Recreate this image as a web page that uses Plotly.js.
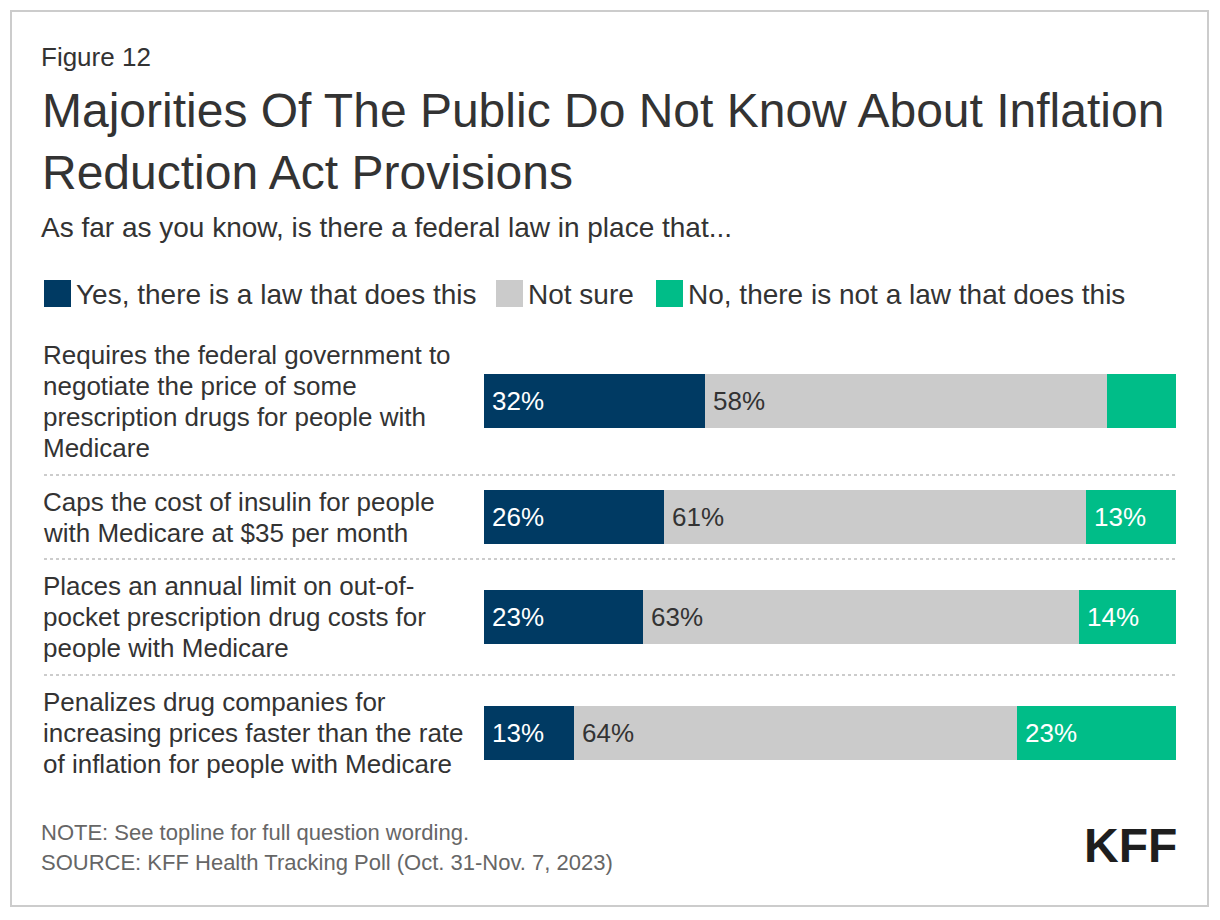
<!DOCTYPE html>
<html>
<head>
<meta charset="utf-8">
<script src="https://cdn.plot.ly/plotly-3.0.1.min.js"></script>
<style>
  html, body { margin: 0; padding: 0; background: #ffffff; }
  #chart { width: 1220px; height: 920px; }
</style>
</head>
<body>
<div id="chart"></div>
<script>
// ---------------- DATA ----------------
const categories = [
  "Requires the federal government to<br>negotiate the price of some<br>prescription drugs for people with<br>Medicare",
  "Caps the cost of insulin for people<br>with Medicare at $35 per month",
  "Places an annual limit on out-of-<br>pocket prescription drug costs for<br>people with Medicare",
  "Penalizes drug companies for<br>increasing prices faster than the rate<br>of inflation for people with Medicare"
];
const seriesNames = [
  "Yes, there is a law that does this",
  "Not sure",
  "No, there is not a law that does this"
];
const yesValues = [32, 26, 23, 13];
const notSureValues = [58, 61, 63, 64];
const noValues = [10, 13, 14, 23];

const figureLabel = "Figure 12";
const titleText = "Majorities Of The Public Do Not Know About Inflation<br>Reduction Act Provisions";
const subtitleText = "As far as you know, is there a federal law in place that...";
const noteText = "NOTE: See topline for full question wording.";
const sourceText = "SOURCE: KFF Health Tracking Poll (Oct. 31-Nov. 7, 2023)";
const logoText = "KFF";

// ---------------- STYLE / LAYOUT ----------------
const FONT = '"Liberation Sans", Arial, Helvetica, sans-serif';
const colors = ["#003a63", "#cbcbcb", "#00bd88"];
const labelColors = ["#ffffff", "#333333", "#ffffff"];
const W = 1220, H = 920;
const ml = 484, mr = 44, mt = 327, mb = 129;
const plotW = W - ml - mr, plotH = H - mt - mb;
const PX_PER_UNIT = 32;
const LINE_UNITS = 31 / PX_PER_UNIT;
const ROW_PAD = 20 / PX_PER_UNIT;
const BAR_UNITS = 54 / PX_PER_UNIT;
const MIN_LABEL = 11;
const TXT_PAD = 3; // plotly annotation inner padding

function px2x(px) { return (px - ml) / plotW; }
function px2y(py) { return (H - mb - py) / plotH; }

// row geometry derived from the number of label lines
const labelLines = categories.map(c => c.split("<br>"));
const rowCenters = [];
const rowBounds = [];
let cursor = 0;
labelLines.forEach(lines => {
  const h = lines.length + ROW_PAD;
  rowCenters.push(cursor + h / 2);
  cursor += h;
  rowBounds.push(cursor);
});
const totalUnits = cursor;

const seriesValues = [yesValues, notSureValues, noValues];

const traces = seriesValues.map((vals, s) => ({
  type: "bar",
  orientation: "h",
  name: seriesNames[s],
  x: vals,
  y: rowCenters,
  width: BAR_UNITS,
  marker: { color: colors[s], line: { width: 0 } },
  hoverinfo: "skip",
  showlegend: false
}));

const annotations = [];
const shapes = [];

// bar value labels
categories.forEach((c, i) => {
  let base = 0;
  seriesValues.forEach((vals, s) => {
    const v = vals[i];
    if (v >= MIN_LABEL) {
      annotations.push({
        xref: "x", yref: "y", x: base, y: rowCenters[i],
        xanchor: "left", yanchor: "middle", xshift: 6,
        text: v + "%", showarrow: false,
        font: { family: FONT, size: 26, color: labelColors[s] }
      });
    }
    base += v;
  });
});

// category labels (one annotation per line)
labelLines.forEach((lines, i) => {
  const n = lines.length;
  lines.forEach((ln, k) => {
    annotations.push({
      xref: "paper", yref: "y", x: px2x(44 - TXT_PAD),
      y: rowCenters[i] + (k - (n - 1) / 2) * LINE_UNITS,
      xanchor: "left", yanchor: "middle", align: "left",
      text: ln, showarrow: false,
      font: { family: FONT, size: 26, color: "#333333" }
    });
  });
});

// dotted separators between rows
rowBounds.slice(0, -1).forEach(b => {
  shapes.push({
    type: "line", xref: "paper", yref: "y",
    x0: px2x(44), x1: 1, y0: b, y1: b,
    line: { color: "#cccccc", width: 2, dash: "dot" }
  });
});

// legend
const legendX = [44, 496, 656];
seriesNames.forEach((nm, s) => {
  shapes.push({
    type: "rect", xref: "paper", yref: "paper",
    x0: px2x(legendX[s]), x1: px2x(legendX[s] + 27),
    y0: px2y(307), y1: px2y(280),
    fillcolor: colors[s], line: { width: 0 }
  });
  annotations.push({
    xref: "paper", yref: "paper", x: px2x(legendX[s] + 33 - TXT_PAD), y: px2y(294),
    xanchor: "left", yanchor: "middle", text: nm, showarrow: false,
    font: { family: FONT, size: 28, color: "#333333" }
  });
});

// header texts
annotations.push({
  xref: "paper", yref: "paper", x: px2x(42 - TXT_PAD), y: px2y(57),
  xanchor: "left", yanchor: "middle", text: figureLabel, showarrow: false,
  font: { family: FONT, size: 26, color: "#333333" }
});
annotations.push({
  xref: "paper", yref: "paper", x: px2x(42 - TXT_PAD), y: px2y(228),
  xanchor: "left", yanchor: "middle", text: subtitleText, showarrow: false,
  font: { family: FONT, size: 28, color: "#333333" }
});
// footer
annotations.push({
  xref: "paper", yref: "paper", x: px2x(42 - TXT_PAD), y: px2y(832),
  xanchor: "left", yanchor: "middle", text: noteText, showarrow: false,
  font: { family: FONT, size: 22, color: "#666666" }
});
annotations.push({
  xref: "paper", yref: "paper", x: px2x(42 - TXT_PAD), y: px2y(862),
  xanchor: "left", yanchor: "middle", text: sourceText, showarrow: false,
  font: { family: FONT, size: 22, color: "#666666" }
});
annotations.push({
  xref: "paper", yref: "paper", x: px2x(1176 + TXT_PAD), y: px2y(845),
  xanchor: "right", yanchor: "middle", text: "<b>" + logoText + "</b>", showarrow: false,
  font: { family: FONT, size: 48, color: "#1e1e1e" }
});

// outer border
shapes.push({
  type: "rect", xref: "paper", yref: "paper",
  x0: px2x(11), x1: px2x(1208), y0: px2y(906), y1: px2y(11),
  line: { color: "#cccccc", width: 2 }, fillcolor: "rgba(0,0,0,0)", layer: "below"
});

const layout = {
  width: W, height: H,
  margin: { l: ml, r: mr, t: mt, b: mb, pad: 0 },
  paper_bgcolor: "#ffffff", plot_bgcolor: "#ffffff",
  font: { family: FONT, color: "#333333" },
  title: {
    text: titleText,
    x: 42 / W, xanchor: "left", xref: "container",
    y: 1 - 127 / H, yanchor: "top", yref: "container",
    font: { family: FONT, size: 48, color: "#333333" }
  },
  barmode: "stack",
  bargap: 0,
  showlegend: false,
  xaxis: { range: [0, 100], visible: false, fixedrange: true },
  yaxis: { range: [totalUnits, 0], visible: false, fixedrange: true },
  annotations: annotations,
  shapes: shapes
};

Plotly.newPlot("chart", traces, layout, { displayModeBar: false, staticPlot: true });
</script>
</body>
</html>
